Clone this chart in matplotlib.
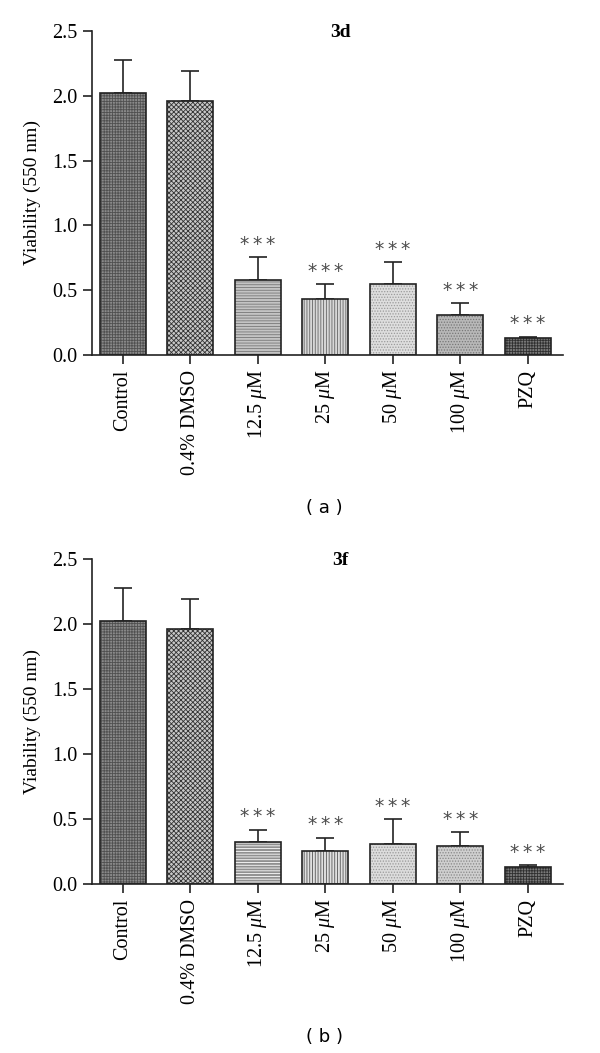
import numpy as np
import matplotlib
matplotlib.use("Agg")
import matplotlib.pyplot as plt

plt.rcParams["font.family"] = ["Liberation Serif", "DejaVu Serif"]
plt.rcParams["mathtext.fontset"] = "custom"
plt.rcParams["mathtext.rm"] = "Liberation Serif"
plt.rcParams["mathtext.it"] = "Liberation Serif:italic"
plt.rcParams["hatch.linewidth"] = 0.6

# Data
groups = ["Control", "0.4% DMSO", r"12.5 $\mu$M", r"25 $\mu$M", r"50 $\mu$M", r"100 $\mu$M", "PZQ"]
viab_3d = [2.02, 1.96, 0.58, 0.435, 0.55, 0.31, 0.133]
err_3d = [0.255, 0.23, 0.177, 0.113, 0.165, 0.09, 0.009]
viab_3f = [2.02, 1.96, 0.325, 0.255, 0.305, 0.295, 0.131]
err_3f = [0.257, 0.23, 0.093, 0.101, 0.193, 0.103, 0.013]
signif = ["", "", "***", "***", "***", "***", "***"]

# fill styles per bar: (face, hatch colour, hatch)
styles_3d = [("#8a8a8a", "#505050", "++++++"),
             ("#c8c8c8", "#333333", "xxxxxxx"),
             ("#c4c4c4", "#777777", "------"),
             ("#d8d8d8", "#666666", "||||||"),
             ("#dedede", "#9a9a9a", "......"),
             ("#b8b8b8", "#777777", "......"),
             ("#7a7a7a", "#303030", "++++++")]
styles_3f = [("#8a8a8a", "#505050", "++++++"),
             ("#c8c8c8", "#333333", "xxxxxxx"),
             ("#909090", "#ffffff", "------"),
             ("#e0e0e0", "#555555", "||||||"),
             ("#dcdcdc", "#999999", "......"),
             ("#cfcfcf", "#888888", "......"),
             ("#7a7a7a", "#303030", "++++++")]


def draw_panel(ax, vals, errs, styles, title):
    x = np.arange(len(groups))
    for i in range(len(groups)):
        face, hcol, hatch = styles[i]
        ax.bar(x[i], vals[i], width=0.68, color=face, edgecolor=hcol,
               hatch=hatch, linewidth=0, zorder=2)
    ax.bar(x, vals, width=0.68, fill=False, edgecolor="#222222", linewidth=1.2, zorder=3)
    ax.errorbar(x, vals, yerr=[np.zeros(len(vals)), errs], fmt="none",
                ecolor="#222222", elinewidth=1.2, capsize=6.5, capthick=1.2, zorder=1)
    for i in range(len(groups)):
        if signif[i]:
            ax.text(x[i], vals[i] + errs[i] + 0.025, "\u2009".join(signif[i]),
                    ha="center", va="bottom", fontsize=13.5, color="#4a4a4a",
                    family="DejaVu Sans")
    ax.set_xlim(-0.46, 6.52)
    ax.set_ylim(0, 2.5)
    ax.set_yticks([0, 0.5, 1.0, 1.5, 2.0, 2.5])
    ax.set_yticklabels(["0.0", "0.5", "1.0", "1.5", "2.0", "2.5"])
    ax.set_xticks(x)
    ax.set_xticklabels(groups, rotation=90)
    ax.tick_params(axis="both", labelsize=14.5, length=6.5, width=1.2, pad=4, color="#222222")
    ax.spines["top"].set_visible(False)
    ax.spines["right"].set_visible(False)
    ax.spines["left"].set_linewidth(1.2)
    ax.spines["bottom"].set_linewidth(1.2)
    ax.spines["left"].set_color("#222222")
    ax.spines["bottom"].set_color("#222222")
    ax.set_ylabel("Viability (550 nm)", fontsize=14, labelpad=8)
    ax.text(0.527, 0.995, title, transform=ax.transAxes, ha="center", va="center",
            fontsize=14, fontweight="bold")


fig = plt.figure(figsize=(6, 10.53), dpi=100)
ax1 = fig.add_axes([0.153, 0.6629, 0.785, 0.3077])
ax2 = fig.add_axes([0.153, 0.1605, 0.785, 0.3086])

draw_panel(ax1, viab_3d, err_3d, styles_3d, "3d")
draw_panel(ax2, viab_3f, err_3f, styles_3f, "3f")

fig.text(0.54, 1 - 508 / 1053, "( a )", ha="center", va="center", fontsize=13, family="DejaVu Sans")
fig.text(0.54, 1 - 1037 / 1053, "( b )", ha="center", va="center", fontsize=13, family="DejaVu Sans")

fig.savefig("out.png", dpi=100)
